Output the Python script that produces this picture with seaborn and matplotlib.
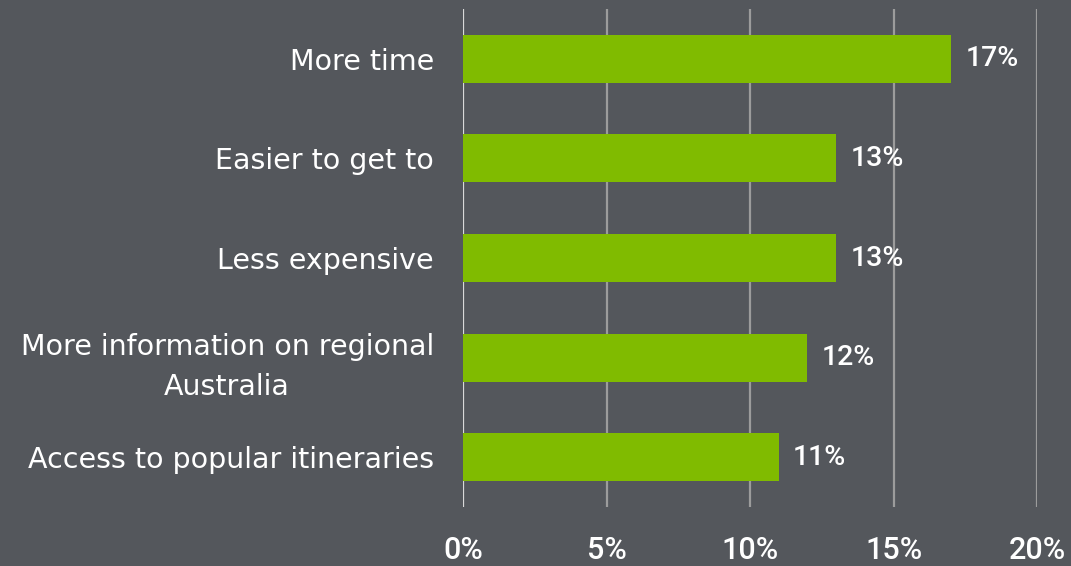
import matplotlib
matplotlib.use("Agg")
import matplotlib.pyplot as plt
import seaborn as sns
import pandas as pd

categories = [
    "More time",
    "Easier to get to",
    "Less expensive",
    "More information on regional\nAustralia",
    "Access to popular itineraries",
]
values = [17, 13, 13, 12, 11]
ticks = [0, 5, 10, 15, 20]
tick_labels = ["0%", "5%", "10%", "15%", "20%"]

BG = "#54575c"
GREEN = "#80bb00"
WHITE = "#ffffff"
NUM_FONT = ["Roboto", "DejaVu Sans"]

sns.set_style("dark")
plt.rcParams["font.family"] = ["DejaVu Sans"]

df = pd.DataFrame({"reason": categories, "share": values})

fig = plt.figure(figsize=(10.71, 5.66), dpi=100, facecolor=BG)
ax = fig.add_axes([463 / 1071, 1 - 507 / 566, (1037 - 463) / 1071, (507 - 9) / 566])
ax.set_facecolor(BG)

for t in ticks:
    ax.axvline(t, color="#d9d9d9" if t == 0 else "#9c9c9c", lw=1.6, zorder=0)

sns.barplot(data=df, x="share", y="reason", orient="h", color=GREEN,
            width=0.48, saturation=1, linewidth=0, edgecolor="none",
            ax=ax, zorder=2)

for i, v in enumerate(values):
    ax.text(v + 0.5, i, f"{v}%", va="center", ha="left", color=WHITE,
            fontsize=20.5, family=NUM_FONT, fontweight=500, zorder=3)

ax.set_xlim(0, 20)
ax.set_ylim(4.5, -0.5)
ax.set_xticks(ticks)
ax.set_xticklabels(tick_labels, family=NUM_FONT, fontweight=500)
ax.tick_params(axis="x", length=0, pad=21, labelsize=22, labelcolor=WHITE)
ax.tick_params(axis="y", length=0, pad=21, labelsize=20.5, labelcolor=WHITE)
for lbl in ax.get_yticklabels():
    lbl.set_multialignment("center")
    lbl.set_linespacing(1.55)
ax.set_xlabel("")
ax.set_ylabel("")
ax.grid(False)
for s in ax.spines.values():
    s.set_visible(False)

fig.savefig("out.png", dpi=100, facecolor=BG)
